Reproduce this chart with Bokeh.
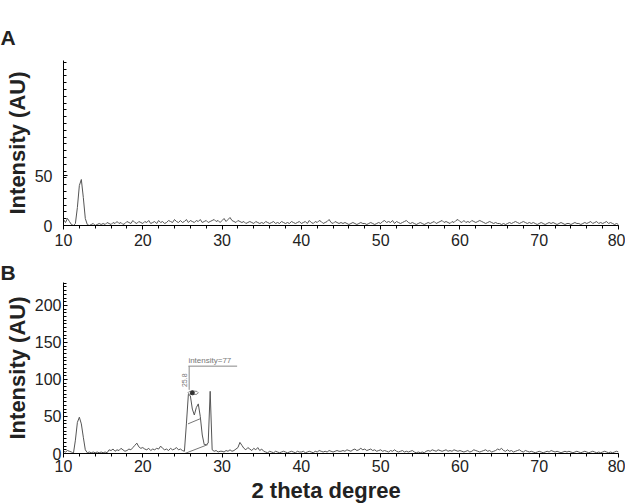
import numpy as np
from bokeh.plotting import figure
from bokeh.layouts import column
from bokeh.models import FixedTicker, Title
from bokeh.core.properties import value
from bokeh.embed import file_html
from bokeh.resources import INLINE

# 2-theta sampling grid (degrees), step 0.25 from 10 to 80
two_theta = np.arange(10.0, 80.001, 0.25)

# Panel A intensities (AU)
intensity_a = [
    6, 3, 7, 4, 1, 0, 2, 18, 40, 46, 28, 7, 1, 0, 1, 2, 0, 1, 2, 1,
    2, 1, 3, 2, 1, 3, 2, 4, 2, 3, 1, 2, 4, 3, 2, 5, 3, 2, 4, 3,
    2, 4, 3, 5, 2, 3, 4, 2, 5, 3, 4, 2, 3, 5, 4, 3, 6, 4, 3, 5,
    3, 4, 6, 3, 5, 4, 3, 5, 4, 6, 3, 4, 5, 3, 4, 5, 6, 4, 5, 3,
    5, 7, 4, 6, 8, 5, 4, 3, 5, 4, 3, 4, 2, 3, 4, 3, 2, 4, 3, 2,
    3, 2, 4, 3, 2, 3, 4, 2, 3, 2, 4, 3, 2, 3, 2, 4, 3, 2, 3, 4,
    2, 3, 4, 2, 5, 3, 2, 4, 3, 5, 4, 2, 3, 4, 6, 3, 2, 4, 3, 2,
    3, 2, 3, 2, 1, 2, 3, 2, 1, 2, 3, 2, 2, 1, 2, 3, 2, 1, 2, 3,
    2, 4, 5, 3, 4, 3, 5, 2, 4, 3, 2, 3, 4, 5, 3, 2, 3, 2, 1, 2,
    3, 2, 1, 2, 3, 2, 3, 4, 2, 3, 4, 5, 3, 4, 3, 2, 4, 3, 5, 6,
    4, 3, 5, 3, 4, 3, 5, 4, 3, 4, 5, 4, 3, 2, 3, 4, 3, 2, 3, 2,
    2, 1, 2, 1, 2, 3, 2, 3, 4, 3, 2, 3, 4, 3, 2, 3, 2, 3, 2, 1,
    2, 3, 2, 1, 2, 3, 2, 3, 2, 1, 2, 3, 2, 1, 2, 2, 1, 2, 3, 2,
    2, 1, 2, 3, 2, 3, 4, 2, 3, 4, 2, 3, 2, 3, 4, 2, 3, 2, 1, 2,
    1,
]

# Panel B intensities (AU)
intensity_b = [
    3, 2, 4, 3, 2, 0, 18, 42, 49, 40, 22, 5, 1, 2, 1, 2, 1, 2, 1, 2,
    1, 2, 1, 5, 4, 6, 3, 5, 4, 7, 5, 3, 4, 6, 5, 8, 11, 14, 9, 7,
    8, 6, 5, 7, 4, 6, 5, 7, 6, 10, 7, 5, 6, 4, 7, 5, 6, 8, 5, 6,
    4, 3, 40, 80, 78, 60, 52, 62, 67, 50, 25, 12, 12, 14, 84, 5, 3, 4, 2, 3,
    3, 2, 4, 3, 5, 3, 4, 6, 8, 15, 11, 7, 5, 8, 6, 4, 7, 5, 8, 4,
    6, 3, 2, 1, 3, 2, 1, 3, 2, 1, 2, 3, 2, 1, 2, 3, 2, 1, 3, 2,
    2, 3, 1, 2, 3, 2, 1, 3, 2, 4, 3, 2, 3, 2, 4, 3, 2, 3, 4, 3,
    3, 4, 3, 5, 4, 3, 5, 6, 4, 5, 7, 5, 6, 4, 5, 6, 4, 5, 3, 4,
    5, 3, 4, 3, 2, 4, 3, 5, 3, 2, 3, 4, 2, 3, 2, 3, 4, 2, 1, 2,
    1, 2, 1, 3, 4, 3, 5, 4, 3, 5, 4, 3, 4, 5, 3, 4, 3, 5, 4, 3,
    4, 3, 2, 3, 4, 2, 3, 5, 4, 3, 2, 3, 4, 5, 3, 4, 2, 3, 4, 6,
    5, 7, 4, 3, 5, 3, 4, 2, 3, 4, 5, 3, 2, 4, 3, 2, 3, 2, 1, 2,
    3, 2, 1, 2, 3, 2, 4, 3, 2, 3, 2, 1, 2, 3, 2, 3, 2, 1, 2, 3,
    2, 1, 2, 3, 2, 1, 2, 3, 2, 1, 2, 1, 2, 3, 2, 1, 2, 1, 2, 3,
    2,
]

x_ticks = [10, 20, 30, 40, 50, 60, 70, 80]
y_ticks_a = [0, 50]
y_ticks_b = [0, 50, 100, 150, 200]

# Peak annotation in panel B (peak-picking software overlay)
annot_text = "intensity=77"
annot_pos = (25.75, 119.5)
annot_underline_x = [25.75, 31.9]
annot_underline_y = [118, 118]
annot_stem_x = [25.85, 25.85]
annot_stem_y = [118, 86]
annot_rot_text = "25.8"
annot_rot_pos = (25.3, 99)
annot_ellipse = (26.35, 82, 1.3, 5.0)
bg_line_x = [25.3, 28.2]
bg_line_y = [0, 12]
half_line_x = [25.7, 27.25]
half_line_y = [40, 47]

FONT = "Liberation Sans"
LINE = "#555555"
TXT = "#222222"


def base_fig(height, ymax, top, bottom):
    p = figure(width=625, height=height, x_range=(10, 80), y_range=(0, ymax),
               output_backend="svg", toolbar_location=None,
               min_border_left=62, min_border_right=7,
               min_border_top=top, min_border_bottom=bottom)
    p.outline_line_color = None
    p.grid.visible = False
    p.background_fill_color = "white"
    p.xaxis.ticker = FixedTicker(ticks=x_ticks,
                                 minor_ticks=list(np.arange(10, 80.01, 2)))
    for ax in (p.xaxis[0], p.yaxis[0]):
        ax.axis_line_color = "black"
        ax.axis_line_width = 1
        ax.major_tick_line_color = "black"
        ax.minor_tick_line_color = "black"
        ax.major_label_text_font = FONT
        ax.major_label_text_font_size = "16px"
        ax.major_label_text_color = TXT
    p.xaxis.major_tick_in = 0
    p.xaxis.major_tick_out = 4
    p.xaxis.minor_tick_in = 0
    p.xaxis.minor_tick_out = 3
    p.yaxis.major_tick_in = 4
    p.yaxis.major_tick_out = 0
    p.yaxis.minor_tick_in = 3
    p.yaxis.minor_tick_out = 0
    return p


def bold_title(text, size, align="center", offset=0, standoff=0):
    return Title(text=text, text_font=FONT, text_font_style="bold",
                 text_font_size=size, text_color=TXT, align=align,
                 offset=offset, standoff=standoff)


# ---------- Panel A ----------
pa = base_fig(253, 165, 60, 28)
pa.yaxis.ticker = FixedTicker(ticks=y_ticks_a,
                              minor_ticks=list(np.arange(0, 165, 6.8)))
pa.yaxis.major_label_standoff = 11
pa.xaxis.major_label_standoff = 4
pa.line(two_theta, intensity_a, line_color=LINE, line_width=1)
pa.add_layout(bold_title("A", "21px", align="left", offset=-63, standoff=23), "above")
pa.add_layout(bold_title("Intensity (AU)", "22px", offset=10, standoff=4), "left")

# ---------- Panel B ----------
pb = base_fig(251, 231, 29, 51)
pb.yaxis.ticker = FixedTicker(ticks=y_ticks_b,
                              minor_ticks=list(np.arange(0, 231, 5)))
pb.yaxis.major_label_standoff = 2
pb.xaxis.major_label_standoff = 2
pb.line(two_theta, intensity_b, line_color=LINE, line_width=1)
pb.line(bg_line_x, bg_line_y, line_color="#777777", line_width=1)
pb.line(half_line_x, half_line_y, line_color="#777777", line_width=1)
pb.line(annot_underline_x, annot_underline_y, line_color="#888888", line_width=1)
pb.line(annot_stem_x, annot_stem_y, line_color="#888888", line_width=1)
pb.text(x=[annot_pos[0]], y=[annot_pos[1]], text=[annot_text], text_font=value(FONT),
        text_font_size="8px", text_color="#777777", text_align="left",
        text_baseline="bottom")
pb.text(x=[annot_rot_pos[0]], y=[annot_rot_pos[1]], text=[annot_rot_text],
        angle=np.pi / 2, text_font=value(FONT), text_font_size="7px",
        text_color="#777777", text_align="center", text_baseline="middle")
pb.ellipse(x=[annot_ellipse[0]], y=[annot_ellipse[1]], width=[annot_ellipse[2]],
           height=[annot_ellipse[3]], fill_color=None, line_color="#888888",
           line_width=1)
pb.scatter(x=[annot_ellipse[0] - 0.1], y=[annot_ellipse[1]], size=4,
           color="#333333")
pb.add_layout(bold_title("B", "21px", align="left", offset=-63, standoff=-2), "above")
pb.add_layout(bold_title("Intensity (AU)", "22px", offset=0, standoff=4), "left")
pb.add_layout(bold_title("2 theta degree", "22px", align="left", offset=188, standoff=3),
              "below")

layout = column(pa, pb, spacing=0)
open("out.html", "w").write(file_html(layout, INLINE))
